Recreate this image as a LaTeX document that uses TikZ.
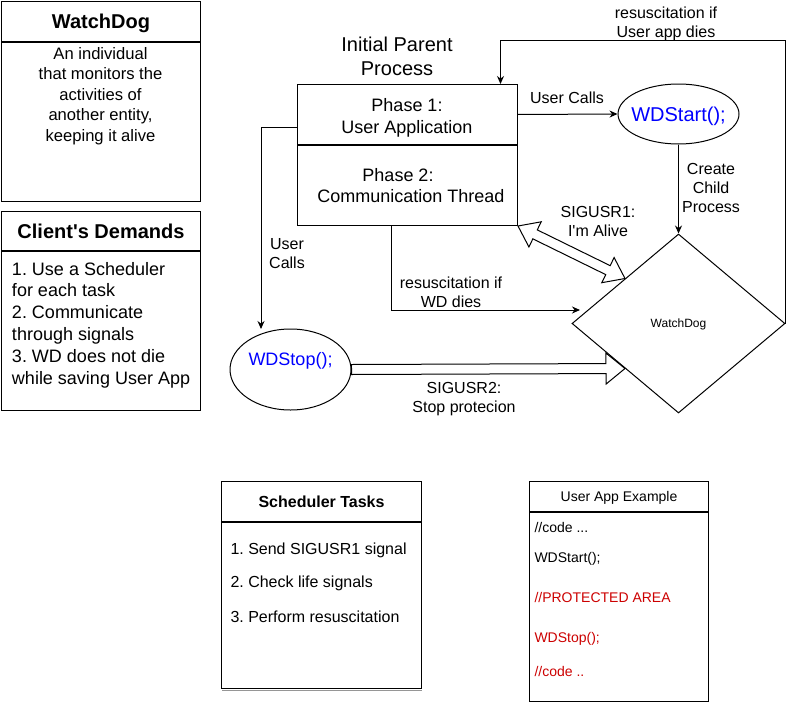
\documentclass[tikz,border=0pt]{standalone}
\usepackage{fontspec}
\setmainfont{Liberation Sans}
\usetikzlibrary{calc,shapes.geometric,arrows.meta}
\frenchspacing

\definecolor{azul}{RGB}{0,0,255}
\definecolor{rojo}{RGB}{204,0,0}
\definecolor{gris}{RGB}{150,150,150}

\tikzset{
  caja/.style={draw, inner sep=0pt},
  oval/.style={draw, ellipse, inner sep=0pt},
  flecha/.style={draw},
  b20/.style={font=\fontsize{20}{24}\selectfont\bfseries, text height=14.4pt, text depth=0pt},
  b16/.style={font=\fontsize{16}{19}\selectfont\bfseries, text height=11.5pt, text depth=0pt},
  s20/.style={font=\fontsize{20}{24}\selectfont, text height=14.4pt, text depth=0pt, inner sep=0pt},
  s18/.style={font=\fontsize{18}{22}\selectfont, text height=13pt, text depth=0pt, inner sep=0pt},
  s16/.style={font=\fontsize{16}{19}\selectfont, text height=11.5pt, text depth=0pt, inner sep=0pt},
  s14/.style={font=\fontsize{14}{17}\selectfont, text height=10pt, text depth=0pt, inner sep=0pt},
  s12/.style={font=\fontsize{12}{14}\selectfont, text height=8.6pt, text depth=0pt},
  m20/.style={font=\fontsize{20}{23.5}\selectfont, align=center, inner sep=0pt},
  m18/.style={font=\fontsize{18}{21.8}\selectfont, inner sep=0pt},
  m17/.style={font=\fontsize{16.6}{20.4}\selectfont, align=center, inner sep=0pt},
  m16/.style={font=\fontsize{16}{19}\selectfont, align=center, inner sep=0pt},
}

% flecha gruesa de una punta: #1 inicio, #2 punta
\newcommand{\sigsimple}[2]{%
  \coordinate (sb) at ($(#2)!19pt!(#1)$);
  \draw[flecha] ($(#1)!5pt!90:(#2)$) -- ($(sb)!5pt!90:(#2)$) -- ($(sb)!15.5pt!90:(#2)$)
    -- (#2) -- ($(sb)!15.5pt!-90:(#2)$) -- ($(sb)!5pt!-90:(#2)$) -- ($(#1)!5pt!-90:(#2)$) -- cycle;}

% flecha gruesa de dos puntas
\newcommand{\sigdoble}[2]{%
  \coordinate (da) at ($(#1)!19pt!(#2)$);
  \coordinate (db) at ($(#2)!19pt!(#1)$);
  \draw[flecha] (#1) -- ($(da)!14pt!90:(#2)$) -- ($(da)!5pt!90:(#2)$) -- ($(db)!5pt!90:(#2)$)
    -- ($(db)!14pt!90:(#2)$) -- (#2) -- ($(db)!14pt!-90:(#2)$) -- ($(db)!5pt!-90:(#2)$)
    -- ($(da)!5pt!-90:(#2)$) -- ($(da)!14pt!-90:(#2)$) -- cycle;}

\begin{document}
\begin{tikzpicture}[x=1pt, y=-1pt, line width=1pt, >={Stealth[length=8pt, width=7pt]}]
    \useasboundingbox (0,0) rectangle (794,701);

    % Caja WatchDog
    \node[caja, b20, minimum width=199pt, minimum height=40pt, anchor=north west] (wdhead) at (1,1) {WatchDog};
    \node[caja, minimum width=199pt, minimum height=159pt, anchor=north] (wdbody) at (wdhead.south) {};
    \node[m17] (wddef) at (100.5,96) {An individual\\that monitors the\\activities of\\another entity,\\keeping it alive};

    % Caja de requisitos del cliente
    \node[caja, b20, minimum width=199pt, minimum height=39pt, anchor=north west] (cdhead) at (1,211) {Client\textquotesingle s Demands};
    \node[caja, minimum width=199pt, minimum height=159pt, anchor=north] (cdbody) at (cdhead.south) {};
    \node[m18, align=left, anchor=west] (cdlist) at (11.5,325) {1. Use a Scheduler\\for each task\\2. Communicate\\through signals\\3. WD does not die\\while saving User App};

    % Proceso padre
    \node[m20] (iniproc) at (397,56.5) {Initial Parent\\Process};
    \node[caja, minimum width=220pt, minimum height=60pt, anchor=north west] (phase1) at (297,84) {};
    \node[caja, minimum width=220pt, minimum height=80pt, anchor=north] (phase2) at (phase1.south) {};
    \node[m18, align=center] (p1txt) at (407,118) {Phase 1:\\User Application};
    \node[m18, align=center] (p2txt) at (407,185.5) {Phase 2:\kern18pt\\\kern8pt Communication Thread};

    % Llamadas WDStart y WDStop
    \node[oval, minimum width=121pt, minimum height=60pt] (wdstart) at (678.5,114) {};
    \node[s20, text=azul] (starttxt) at (wdstart) {WDStart();};
    \node[oval, minimum width=121pt, minimum height=81pt] (wdstop) at (290.5,369.5) {};
    \node[s18, text=azul] (stoptxt) at (290.5,359) {WDStop();};

    % Proceso hijo
    \node[caja, diamond, s12, minimum width=213pt, minimum height=179pt] (wd) at (678.5,323.5) {WatchDog};

    % Conexiones
    \coordinate (stopin) at (261,329);
    \coordinate (wdin) at (580,310);
    \draw[->] (phase1.east) -- (wdstart.west);
    \draw[->] (wdstart.south) -- (wd.north);
    \draw[->] (wd.east) -- ++(0,-282.5) -| ([xshift=93pt]phase1.north);
    \draw[->] ([yshift=-13pt]phase1.west) -| (stopin);
    \draw[->] ([xshift=-16pt]phase2.south) |- (wdin);
    \sigdoble{phase2.south east}{wd.north west}
    \sigsimple{wdstop.east}{wd.south west}

    % Etiquetas
    \node[s16] (lblcall) at (567,98) {User Calls};
    \node[m16] (lblchild) at (711,187.5) {Create\\Child\\Process};
    \node[m16] (lblres) at (666,23.5) {resuscitation if\\User app dies};
    \node[m16] (lblsig1) at (598,221.5) {SIGUSR1:\\I\textquotesingle m Alive};
    \node[m16] (lbluser) at (287,253.5) {User\\Calls};
    \node[m16] (lblwd) at (451,292.5) {resuscitation if\\WD dies};
    \node[m16] (lblsig2) at (464,399) {SIGUSR2:\\Stop protecion};

    % Tareas del scheduler
    \node[caja, b16, minimum width=200pt, minimum height=40pt, anchor=north west] (schhead) at (221,481) {Scheduler Tasks};
    \node[caja, minimum width=200pt, minimum height=166pt, anchor=north] (schbody) at (schhead.south) {};
    \draw[gris, line width=1.5pt] ([xshift=1pt, yshift=-1.5pt]schbody.south west) -- ([yshift=-1.5pt]schbody.south east);
    \node[s16, anchor=west] (tarea1) at (230,549) {1. Send SIGUSR1 signal};
    \node[s16, anchor=west] (tarea2) at (230,582) {2. Check life signals};
    \node[s16, anchor=west] (tarea3) at (230,617) {3. Perform resuscitation};

    % Ejemplo de la aplicacion
    \node[caja, s14, minimum width=179pt, minimum height=30pt, anchor=north west] (apphead) at (529,481) {User App Example};
    \node[caja, minimum width=179pt, minimum height=189pt, anchor=north] (appbody) at (apphead.south) {};
    \node[s14, anchor=west] (code1) at (534,527) {//code ...};
    \node[s14, anchor=west] (code2) at (534,557) {WDStart();};
    \node[s14, anchor=west, text=rojo] (code3) at (534,597) {//PROTECTED AREA};
    \node[s14, anchor=west, text=rojo] (code4) at (534,637) {WDStop();};
    \node[s14, anchor=west, text=rojo] (code5) at (534,671) {//code ..};
\end{tikzpicture}
\end{document}
